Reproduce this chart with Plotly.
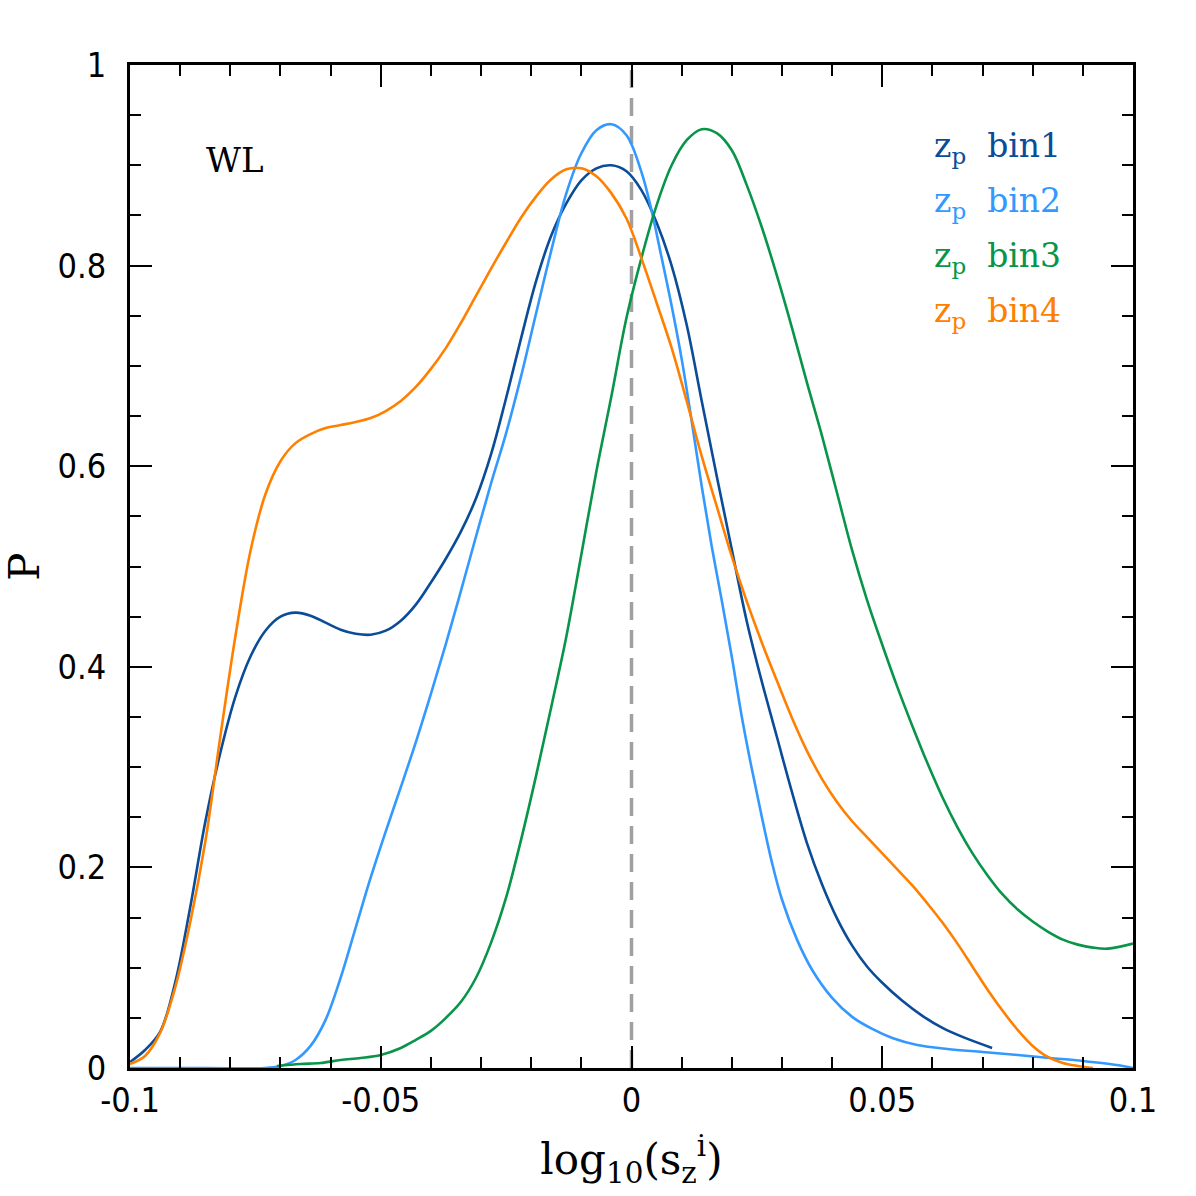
import plotly.graph_objects as go

# ---- data ----
bin1_x = [-0.100, -0.097, -0.094, -0.091, -0.088, -0.085, -0.082, -0.079, -0.076, -0.073,
          -0.070, -0.067, -0.064, -0.061, -0.058, -0.055, -0.052, -0.049, -0.046, -0.043,
          -0.040, -0.037, -0.034, -0.031, -0.028, -0.025, -0.022, -0.019, -0.016, -0.013,
          -0.010, -0.007, -0.004, -0.001, 0.002, 0.005, 0.008, 0.011, 0.014, 0.017,
          0.020, 0.023, 0.026, 0.029, 0.032, 0.035, 0.038, 0.041, 0.044, 0.047,
          0.050, 0.054, 0.058, 0.062, 0.066, 0.0719]
bin1_y = [0.006, 0.018, 0.036, 0.085, 0.160, 0.245, 0.314, 0.370, 0.410, 0.436,
          0.450, 0.454, 0.451, 0.444, 0.437, 0.433, 0.432, 0.436, 0.446, 0.462,
          0.484, 0.508, 0.535, 0.568, 0.612, 0.668, 0.728, 0.785, 0.830, 0.862,
          0.885, 0.897, 0.900, 0.894, 0.875, 0.843, 0.800, 0.741, 0.665, 0.590,
          0.517, 0.445, 0.385, 0.330, 0.275, 0.224, 0.183, 0.149, 0.122, 0.101,
          0.085, 0.067, 0.052, 0.040, 0.031, 0.020]

bin2_x = [-0.100, -0.085, -0.073, -0.070, -0.067, -0.064, -0.061, -0.058, -0.055, -0.052,
          -0.049, -0.046, -0.043, -0.040, -0.037, -0.034, -0.031, -0.028, -0.025, -0.022,
          -0.019, -0.016, -0.013, -0.010, -0.007, -0.004, -0.001, 0.002, 0.004,
          0.006, 0.008, 0.010, 0.012, 0.014, 0.016, 0.018, 0.020, 0.022, 0.024,
          0.026, 0.028, 0.030, 0.033, 0.036, 0.040, 0.044, 0.048, 0.052, 0.057,
          0.063, 0.070, 0.077, 0.0834, 0.090, 0.0968, 0.100]
bin2_y = [0.0, 0.0, 0.0, 0.002, 0.008, 0.022, 0.048, 0.090, 0.140, 0.190,
          0.236, 0.280, 0.325, 0.373, 0.423, 0.476, 0.530, 0.583, 0.633, 0.690,
          0.753, 0.815, 0.872, 0.912, 0.935, 0.941, 0.930, 0.893, 0.855,
          0.808, 0.760, 0.707, 0.645, 0.580, 0.520, 0.466, 0.410, 0.350, 0.298,
          0.250, 0.205, 0.168, 0.128, 0.098, 0.070, 0.051, 0.039, 0.030, 0.023,
          0.019, 0.016, 0.013, 0.010, 0.007, 0.003, 0.0]

bin3_x = [-0.0707, -0.066, -0.062, -0.058, -0.054, -0.050, -0.046, -0.043, -0.040, -0.037,
          -0.034, -0.031, -0.028, -0.025, -0.022, -0.019, -0.016, -0.013, -0.010, -0.007,
          -0.004, -0.001, 0.002, 0.005, 0.008, 0.011, 0.014, 0.017, 0.020, 0.023,
          0.026, 0.029, 0.032, 0.035, 0.038, 0.041, 0.044, 0.047, 0.050, 0.053,
          0.056, 0.059, 0.062, 0.065, 0.068, 0.071, 0.074, 0.077, 0.080, 0.083,
          0.086, 0.089, 0.092, 0.095, 0.100]
bin3_y = [0.002, 0.004, 0.005, 0.008, 0.010, 0.013, 0.020, 0.028, 0.037, 0.050,
          0.066, 0.090, 0.125, 0.170, 0.228, 0.292, 0.360, 0.430, 0.512, 0.595,
          0.670, 0.748, 0.808, 0.860, 0.900, 0.925, 0.936, 0.932, 0.915, 0.880,
          0.838, 0.790, 0.738, 0.683, 0.630, 0.573, 0.516, 0.466, 0.422, 0.380,
          0.341, 0.304, 0.270, 0.240, 0.214, 0.192, 0.173, 0.158, 0.146, 0.136,
          0.128, 0.123, 0.120, 0.119, 0.124]

bin4_x = [-0.100, -0.097, -0.094, -0.091, -0.088, -0.085, -0.082, -0.079, -0.076, -0.073,
          -0.070, -0.067, -0.064, -0.061, -0.058, -0.055, -0.052, -0.049, -0.046, -0.043,
          -0.040, -0.037, -0.034, -0.031, -0.028, -0.025, -0.022, -0.019, -0.016, -0.013,
          -0.010, -0.007, -0.004, -0.001, 0.002, 0.005, 0.008, 0.011, 0.014, 0.017,
          0.020, 0.023, 0.026, 0.029, 0.032, 0.035, 0.038, 0.041, 0.044, 0.047,
          0.050, 0.053, 0.056, 0.059, 0.062, 0.065, 0.068, 0.071, 0.074, 0.077,
          0.080, 0.083, 0.086, 0.089, 0.092]
bin4_y = [0.004, 0.012, 0.035, 0.080, 0.145, 0.225, 0.330, 0.430, 0.515, 0.572,
          0.605, 0.623, 0.632, 0.638, 0.641, 0.644, 0.648, 0.655, 0.665, 0.679,
          0.697, 0.718, 0.743, 0.770, 0.797, 0.823, 0.848, 0.869, 0.886, 0.896,
          0.897, 0.889, 0.872, 0.847, 0.807, 0.763, 0.718, 0.665, 0.610, 0.560,
          0.510, 0.465, 0.424, 0.386, 0.349, 0.316, 0.288, 0.265, 0.246, 0.230,
          0.214, 0.198, 0.182, 0.164, 0.145, 0.124, 0.101, 0.078, 0.057, 0.038,
          0.022, 0.011, 0.005, 0.002, 0.0]

series = [
    ("bin1", bin1_x, bin1_y, "#0b4c98"),
    ("bin2", bin2_x, bin2_y, "#3399ff"),
    ("bin3", bin3_x, bin3_y, "#08954a"),
    ("bin4", bin4_x, bin4_y, "#ff8000"),
]

x_ticks = [-0.1, -0.05, 0, 0.05, 0.1]
x_ticktext = ["-0.1", "-0.05", "0", "0.05", "0.1"]
y_ticks = [0, 0.2, 0.4, 0.6, 0.8, 1]
y_ticktext = ["0", "0.2", "0.4", "0.6", "0.8", "1"]

fig = go.Figure()

# dashed reference line at 0
fig.add_trace(go.Scatter(x=[0, 0], y=[0, 1], mode="lines",
                         line=dict(color="#a0a0a0", width=3.5, dash="18px,10px"),
                         showlegend=False, hoverinfo="skip"))

for name, xs, ys, col in series:
    fig.add_trace(go.Scatter(x=xs, y=ys, mode="lines", name=name,
                             line=dict(color=col, width=2.6, shape="spline", smoothing=1.0),
                             showlegend=False))

serif = "DejaVu Serif"
tickfont = dict(family="Liberation Sans Narrow, DejaVu Sans Condensed, Liberation Sans",
                size=34, color="black")

fig.update_xaxes(range=[-0.1, 0.1], tickvals=x_ticks, ticktext=x_ticktext,
                 ticks="inside", ticklen=22, tickwidth=2, tickcolor="black",
                 showline=True, linecolor="black", linewidth=3, mirror="allticks",
                 showgrid=False, zeroline=False, tickfont=tickfont,
                 minor=dict(dtick=0.01, tick0=0, ticks="inside", ticklen=11,
                            tickwidth=2, tickcolor="black", showgrid=False),
                 title=dict(text="log<sub>10</sub>(s<sub>z</sub><sup>i</sup>)",
                            font=dict(family=serif, size=42, color="black"), standoff=26))
fig.update_yaxes(range=[0, 1], tickvals=y_ticks, ticktext=y_ticktext,
                 ticks="inside", ticklen=22, tickwidth=2, tickcolor="black",
                 showline=True, linecolor="black", linewidth=3, mirror="allticks",
                 showgrid=False, zeroline=False, tickfont=tickfont, ticklabelstandoff=14,
                 minor=dict(dtick=0.05, tick0=0, ticks="inside", ticklen=11,
                            tickwidth=2, tickcolor="black", showgrid=False),
                 title=dict(text="P", font=dict(family=serif, size=42, color="black"),
                            standoff=16))

annos = [dict(x=0.074, y=0.905, xref="paper", yref="paper", text="WL", showarrow=False,
              xanchor="left", yanchor="middle",
              font=dict(family=serif, size=34, color="black"))]
ys_leg = [0.918, 0.863, 0.808, 0.753]
for (name, _, _, col), yl in zip(series, ys_leg):
    annos.append(dict(x=0.8, y=yl, xref="paper", yref="paper",
                      text="z<sub>p</sub>  " + name, showarrow=False,
                      xanchor="left", yanchor="middle",
                      font=dict(family=serif, size=33, color=col)))

fig.update_layout(width=1196, height=1196, margin=dict(l=130, r=63, t=65, b=128),
                  paper_bgcolor="white", plot_bgcolor="white", annotations=annos)

fig.write_html("out.html")
